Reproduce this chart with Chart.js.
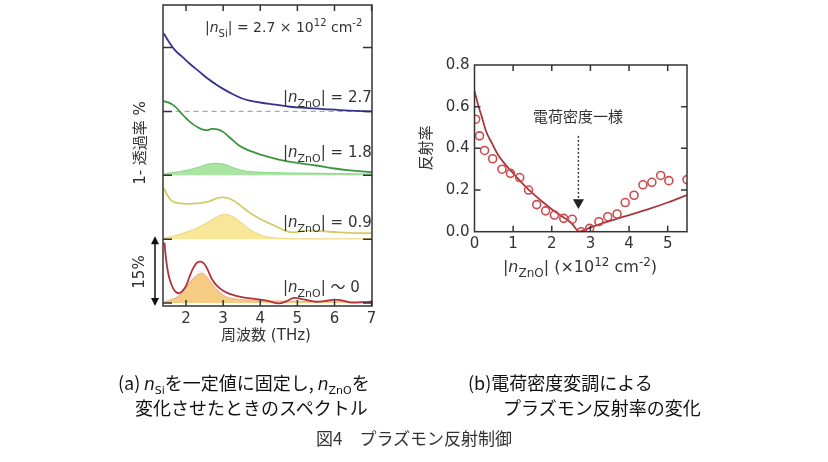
<!DOCTYPE html>
<html><head><meta charset="utf-8">
<script src="https://cdn.jsdelivr.net/npm/chart.js@4.4.1/dist/chart.umd.min.js"></script>
<style>
html,body{margin:0;padding:0;background:#fff;}
#wrap{position:relative;width:828px;height:462px;overflow:hidden;background:#fff;}
canvas{position:absolute;left:0;top:0;}
.cap{position:absolute;font-family:'Noto Sans CJK JP',sans-serif;white-space:nowrap;color:#111;font-size:18px;line-height:18px;}
.cap i{font-family:'DejaVu Sans',sans-serif;font-style:italic;font-size:17px;}
.cap sub{font-family:'DejaVu Sans',sans-serif;font-size:11px;vertical-align:-4px;line-height:0;}
</style></head>
<body>
<div id="wrap">
<canvas id="left" width="828" height="462"></canvas>
<canvas id="right" width="828" height="462"></canvas>
<div class="cap" style="left:118px;top:373px;">(a)&thinsp;<i>n</i><sub>Si</sub>を一定値に固定し,&nbsp;<i>n</i><sub>ZnO</sub>を</div>
<div class="cap" style="left:135px;top:398px;">変化させたときのスペクトル</div>
<div class="cap" style="left:468px;top:373px;">(b)電荷密度変調による</div>
<div class="cap" style="left:503px;top:398px;">プラズモン反射率の変化</div>
<div class="cap" style="left:316px;top:429px;font-size:17px;line-height:17px;color:#333;">図4　プラズモン反射制御</div>
</div>
<script>
// ---------- Panel (a) data: frequency (THz) and 1-transmittance (%), offset by 15% per trace ----------
const blueFreq = [1.4,1.55,1.7,1.9,2.1,2.35,2.6,2.8,3.0,3.25,3.5,3.75,4.0,4.4,4.8,5.3,5.8,6.4,7.0];
const blueVals = [63.3,61.2,59.4,57.8,56.2,54.4,52.6,51.4,50.3,49.1,48.1,47.5,47.1,46.6,46.1,45.8,45.5,45.2,45.0];

const greenFreq = [1.4,1.55,1.7,1.85,2.0,2.2,2.4,2.55,2.7,2.85,3.0,3.2,3.4,3.6,3.8,4.1,4.5,5.0,5.5,6.0,6.5,7.0];
const greenVals = [47.4,47.0,46.2,44.8,43.4,41.9,40.9,40.6,40.9,40.8,40.2,38.7,37.2,36.2,35.5,34.6,33.7,32.9,32.3,31.6,31.1,30.7];
const greenFillFreq = [1.4,1.7,2.0,2.3,2.55,2.8,3.05,3.3,3.6,4.0,4.5,5.0,6.0,7.0];
const greenFillVals = [30.3,30.7,31.1,31.8,32.5,32.8,32.5,31.7,31.0,30.7,30.6,30.5,30.4,30.3];

const yellowFreq = [1.4,1.5,1.6,1.75,2.0,2.3,2.6,2.8,2.95,3.1,3.25,3.45,3.7,3.9,4.1,4.4,4.7,4.9,5.2,5.6,6.1,6.6,7.0];
const yellowVals = [27.0,25.3,24.1,23.5,23.3,23.4,23.8,24.5,24.8,24.7,24.2,23.0,21.3,20.2,19.3,18.1,16.9,16.6,17.0,16.9,16.6,16.4,16.4];
const yellowFillFreq = [1.4,1.7,2.0,2.3,2.6,2.85,3.05,3.25,3.45,3.7,3.95,4.2,4.5,5.0,6.0,7.0];
const yellowFillVals = [15.2,15.8,16.6,17.6,19.0,20.3,20.8,20.3,19.1,17.4,16.2,15.5,15.2,15.1,15.1,15.1];

const redFreq = [1.42,1.46,1.52,1.6,1.7,1.8,1.9,2.0,2.1,2.2,2.3,2.4,2.5,2.6,2.7,2.85,3.0,3.2,3.5,3.9,4.2,4.5,4.7,4.9,5.1,5.3,5.5,5.75,6.0,6.2,6.45,6.8,7.0];
const redVals = [14.2,10.5,7.0,4.5,2.8,2.3,2.8,4.0,6.3,8.3,9.5,9.7,9.1,7.5,5.6,3.9,2.9,2.1,1.4,0.9,0.5,-0.1,0.4,1.2,1.0,0.6,0.3,0.5,0.8,0.6,0.1,0.2,0.3];
const redFillFreq = [1.42,1.6,1.8,2.0,2.15,2.3,2.42,2.55,2.7,2.85,3.05,3.3,3.6,4.0,5.0,6.0,7.0];
const redFillVals = [0.3,0.8,1.6,3.6,5.3,6.5,7.0,6.2,4.5,2.9,1.6,1.0,0.7,0.5,0.4,0.3,0.3];

const offsetLevels = [0,15,30,45,60];
const freqTicks = [2,3,4,5,6,7];

// ---------- Panel (b) data ----------
const densMeas = [0.03,0.13,0.26,0.47,0.71,0.93,1.17,1.40,1.61,1.84,2.07,2.31,2.53,2.76,2.98,3.22,3.45,3.69,3.90,4.13,4.36,4.59,4.82,5.03,5.50];
const reflMeas = [0.54,0.46,0.39,0.35,0.30,0.28,0.26,0.20,0.13,0.10,0.08,0.064,0.06,0.0,0.016,0.048,0.072,0.085,0.14,0.175,0.225,0.237,0.27,0.245,0.25];
const densCalc = [0,0.1,0.2,0.3,0.45,0.6,0.8,1.0,1.25,1.5,1.75,2.0,2.25,2.5,2.72,2.9,3.1,3.3,3.6,4.0,4.5,5.0,5.5];
const reflCalc = [0.675,0.605,0.545,0.482,0.425,0.372,0.322,0.28,0.23,0.185,0.145,0.108,0.075,0.043,0.0,0.013,0.027,0.04,0.057,0.08,0.108,0.14,0.176];
const densTicks = [0,1,2,3,4,5];
const reflTicks = [0,0.2,0.4,0.6,0.8];
const uniformDensity = 2.69;
const arrowRefl = [0.46, 0.14];

const FAM = "'DejaVu Sans','Noto Sans CJK JP',sans-serif";
Chart.defaults.font.family = FAM;
Chart.defaults.font.size = 15;
Chart.defaults.color = '#333';

const pts = (xs, ys) => xs.map((x, i) => ({x, y: ys[i]}));

function rich(ctx, x, y, segs, size, align) {
  const f = s => `${s.i ? 'italic ' : ''}${(s.sub || s.sup) ? Math.round(size * 0.72) : size}px ${FAM}`;
  let w = 0;
  segs.forEach(s => { ctx.font = f(s); w += ctx.measureText(s.t).width; });
  let cx = align === 'center' ? x - w / 2 : x;
  ctx.textBaseline = 'alphabetic';
  ctx.textAlign = 'left';
  segs.forEach(s => {
    ctx.font = f(s);
    const dy = s.sub ? size * 0.33 : s.sup ? -size * 0.4 : 0;
    ctx.fillText(s.t, cx, y + dy);
    cx += ctx.measureText(s.t).width;
  });
}

function frame(chart, xl, yl, xSkip, ySkip) {
  const {ctx, chartArea: a, scales: {x, y}} = chart;
  ctx.save();
  ctx.strokeStyle = '#333';
  ctx.lineWidth = 1.5;
  ctx.strokeRect(a.left, a.top, a.right - a.left, a.bottom - a.top);
  ctx.beginPath();
  x.ticks.forEach(t => {
    if (xSkip.includes(t.value)) return;
    const p = x.getPixelForValue(t.value);
    ctx.moveTo(p, a.bottom); ctx.lineTo(p, a.bottom - xl);
    ctx.moveTo(p, a.top); ctx.lineTo(p, a.top + xl);
  });
  y.ticks.forEach(t => {
    if (ySkip.includes(t.value)) return;
    const p = y.getPixelForValue(t.value);
    ctx.moveTo(a.left, p); ctx.lineTo(a.left + yl, p);
    ctx.moveTo(a.right, p); ctx.lineTo(a.right - yl, p);
  });
  ctx.stroke();
  ctx.restore();
}

function zno(val) {
  return [{t: '|'}, {t: 'n', i: true}, {t: 'ZnO', sub: true}, {t: '| ' + val}];
}

const leftDecor = {
  id: 'leftDecor',
  afterDatasetsDraw(chart) {
    frame(chart, 6, 9, [], []);
    const ctx = chart.ctx;
    ctx.save();
    ctx.fillStyle = '#333';
    rich(ctx, 205, 32, [{t: '|'}, {t: 'n', i: true}, {t: 'Si', sub: true}, {t: '| = 2.7 × 10'}, {t: '12', sup: true}, {t: ' cm'}, {t: '-2', sup: true}], 14);
    rich(ctx, 283, 102, zno('= 2.7'), 15);
    rich(ctx, 283, 157, zno('= 1.8'), 15);
    rich(ctx, 283, 227, zno('= 0.9'), 15);
    rich(ctx, 283, 292, zno('～ 0'), 15);
    // axis titles
    ctx.font = `15px ${FAM}`;
    ctx.textAlign = 'center';
    ctx.textBaseline = 'middle';
    ctx.fillText('周波数 (THz)', 266, 336);
    ctx.save();
    ctx.translate(141, 143);
    ctx.rotate(-Math.PI / 2);
    ctx.fillText('1- 透過率 %', 0, 0);
    ctx.restore();
    ctx.save();
    ctx.translate(140, 272);
    ctx.rotate(-Math.PI / 2);
    ctx.fillText('15%', 0, 0);
    ctx.restore();
    // 15% scale arrow
    const yS = chart.scales.y;
    const top = yS.getPixelForValue(15) - 3, bot = yS.getPixelForValue(0) + 3, ax = 155;
    ctx.strokeStyle = '#111'; ctx.fillStyle = '#111'; ctx.lineWidth = 1.5;
    ctx.beginPath(); ctx.moveTo(ax, top + 6); ctx.lineTo(ax, bot - 6); ctx.stroke();
    ctx.beginPath(); ctx.moveTo(ax, top); ctx.lineTo(ax - 4, top + 8); ctx.lineTo(ax + 4, top + 8); ctx.closePath(); ctx.fill();
    ctx.beginPath(); ctx.moveTo(ax, bot); ctx.lineTo(ax - 4, bot - 8); ctx.lineTo(ax + 4, bot - 8); ctx.closePath(); ctx.fill();
    ctx.restore();
  }
};

const lineDs = (data, color, w, order) => ({data, showLine: true, borderColor: color, borderWidth: w, pointRadius: 0, tension: 0.4, fill: false, order});
const fillDs = (data, line, bg, base, order) => ({data, showLine: true, borderColor: line, borderWidth: 1.2, backgroundColor: bg, pointRadius: 0, tension: 0.4, fill: {value: base}, order});

new Chart(document.getElementById('left'), {
  type: 'scatter',
  data: {datasets: [
    lineDs(pts(blueFreq, blueVals), '#34348f', 1.8, 1),
    lineDs(pts(greenFreq, greenVals), '#3c963f', 1.8, 1),
    lineDs(pts(yellowFreq, yellowVals), '#d3cb6c', 1.8, 1),
    lineDs(pts(redFreq, redVals), '#b3323b', 1.8, 1),
    {data: [{x: 1.72, y: 45}, {x: 7.01, y: 45}], showLine: true, borderColor: '#a9a9a9', borderWidth: 1.3, borderDash: [5, 4], pointRadius: 0, order: 2},
    fillDs(pts(greenFillFreq, greenFillVals), '#92d88b', 'rgba(166,228,158,0.95)', 30, 3),
    fillDs(pts(yellowFillFreq, yellowFillVals), '#efd98a', 'rgba(248,229,148,0.95)', 15, 3),
    fillDs(pts(redFillFreq, redFillVals), '#eab68a', 'rgba(245,201,124,0.95)', 0, 3)
  ]},
  options: {
    responsive: false, animation: false, devicePixelRatio: 1,
    layout: {padding: {left: 0, top: 5, right: 828 - 372, bottom: 0}},
    plugins: {legend: {display: false}, tooltip: {enabled: false}},
    scales: {
      x: {type: 'linear', min: 1.38, max: 7.01,
        afterBuildTicks: s => { s.ticks = freqTicks.map(v => ({value: v})); },
        afterFit: s => { s.height = 462 - 306; },
        grid: {display: false, drawTicks: false}, border: {display: false},
        ticks: {padding: 4, color: '#333', font: {size: 15}}},
      y: {type: 'linear', min: -0.7, max: 70,
        afterBuildTicks: s => { s.ticks = offsetLevels.map(v => ({value: v})); },
        afterFit: s => { s.width = 163; },
        grid: {display: false, drawTicks: false}, border: {display: false},
        ticks: {display: false}}
    }
  },
  plugins: [leftDecor]
});

const rightDecor = {
  id: 'rightDecor',
  afterDatasetsDraw(chart) {
    frame(chart, 6, 6, [0], [0, 0.8]);
    const ctx = chart.ctx;
    ctx.save();
    ctx.fillStyle = '#333';
    ctx.font = `15px ${FAM}`;
    ctx.textAlign = 'center';
    ctx.textBaseline = 'middle';
    ctx.fillText('電荷密度一様', 578, 118);
    ctx.save();
    ctx.translate(427, 148);
    ctx.rotate(-Math.PI / 2);
    ctx.fillText('反射率', 0, 0);
    ctx.restore();
    rich(ctx, 580, 272, [{t: '|'}, {t: 'n', i: true}, {t: 'ZnO', sub: true}, {t: '| (×10'}, {t: '12', sup: true}, {t: ' cm'}, {t: '-2', sup: true}, {t: ')'}], 16, 'center');
    ctx.restore();
  }
};

new Chart(document.getElementById('right'), {
  type: 'scatter',
  data: {datasets: [
    {data: pts(densCalc, reflCalc), showLine: true, borderColor: '#a8383c', borderWidth: 1.8, pointRadius: 0, cubicInterpolationMode: 'monotone', order: 2},
    {data: pts(densMeas, reflMeas), showLine: false, pointRadius: 4, pointStyle: 'circle', borderColor: '#cc4a4e', backgroundColor: 'rgba(255,255,255,0)', pointBorderWidth: 1.6, order: 1},
    {data: arrowRefl.map(r => ({x: uniformDensity, y: r})), showLine: true, borderColor: '#333', borderWidth: 1.4, borderDash: [2, 2],
      pointRadius: [0, 5], pointStyle: 'triangle', rotation: 180, pointBackgroundColor: '#222', pointBorderColor: '#222', order: 3}
  ]},
  options: {
    responsive: false, animation: false, devicePixelRatio: 1,
    layout: {padding: {left: 0, top: 65, right: 828 - 687, bottom: 0}},
    plugins: {legend: {display: false}, tooltip: {enabled: false}},
    scales: {
      x: {type: 'linear', min: 0, max: 5.5,
        afterBuildTicks: s => { s.ticks = densTicks.map(v => ({value: v})); },
        afterFit: s => { s.height = 462 - 231.7; },
        grid: {display: false, drawTicks: false}, border: {display: false},
        ticks: {padding: 3, color: '#333', font: {size: 15}}},
      y: {type: 'linear', min: 0, max: 0.8,
        afterBuildTicks: s => { s.ticks = reflTicks.map(v => ({value: v})); },
        afterFit: s => { s.width = 474.5; },
        grid: {display: false, drawTicks: false}, border: {display: false},
        ticks: {padding: 5, color: '#333', font: {size: 15}, callback: v => v.toFixed(1)}}
    }
  },
  plugins: [rightDecor]
});
</script>
</body></html>
